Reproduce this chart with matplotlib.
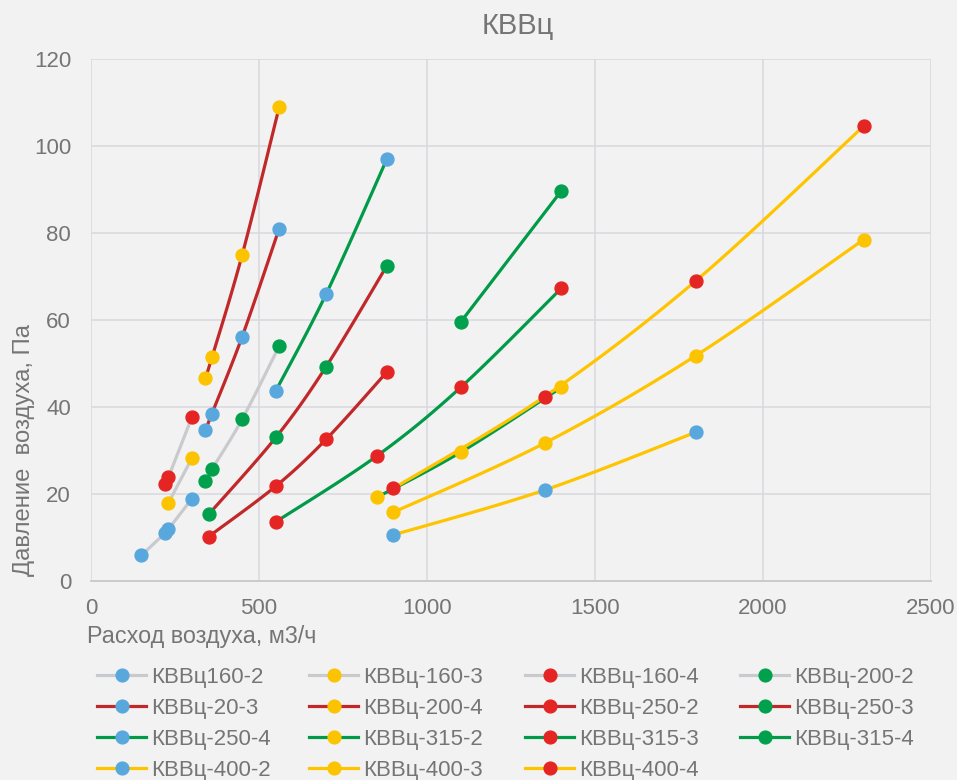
import numpy as np
import matplotlib
matplotlib.use("Agg")
import matplotlib.pyplot as plt
from matplotlib.lines import Line2D

plt.rcParams['font.family'] = ['Liberation Sans', 'DejaVu Sans']

# ---- data ----
names = ["КВВц160-2", "КВВц-160-3", "КВВц-160-4", "КВВц-200-2",
         "КВВц-20-3", "КВВц-200-4", "КВВц-250-2", "КВВц-250-3",
         "КВВц-250-4", "КВВц-315-2", "КВВц-315-3", "КВВц-315-4",
         "КВВц-400-2", "КВВц-400-3", "КВВц-400-4"]

x160_2 = [150, 220, 230, 300];   y160_2 = [5.9, 11.0, 11.9, 18.9]
x160_3 = [230, 300];             y160_3 = [17.9, 28.2]
x160_4 = [220, 230, 300];        y160_4 = [22.2, 23.8, 37.6]
x200_2 = [340, 360, 450, 560];   y200_2 = [23.0, 25.7, 37.2, 54.0]
x200_3 = [340, 360, 450, 560];   y200_3 = [34.6, 38.5, 56.2, 81.0]
x200_4 = [340, 360, 450, 560];   y200_4 = [46.7, 51.4, 75.0, 108.9]
x250_2 = [350, 550, 700, 880];   y250_2 = [10.2, 21.8, 32.6, 48.0]
x250_3 = [350, 550, 700, 880];   y250_3 = [15.3, 33.0, 49.3, 72.4]
x250_4 = [550, 700, 880];        y250_4 = [43.7, 66.0, 96.9]
x315_2 = [850, 1100, 1400];      y315_2 = [19.2, 29.6, 44.5]
x315_3 = [550, 850, 1100, 1400]; y315_3 = [13.6, 28.7, 44.5, 67.3]
x315_4 = [1100, 1400];           y315_4 = [59.5, 89.7]
x400_2 = [900, 1350, 1800];      y400_2 = [10.6, 20.9, 34.2]
x400_3 = [900, 1350, 1800, 2300]; y400_3 = [15.8, 31.7, 51.8, 78.5]
x400_4 = [900, 1350, 1800, 2300]; y400_4 = [21.3, 42.4, 69.0, 104.6]

xs = [x160_2, x160_3, x160_4, x200_2, x200_3, x200_4, x250_2, x250_3,
      x250_4, x315_2, x315_3, x315_4, x400_2, x400_3, x400_4]
ys = [y160_2, y160_3, y160_4, y200_2, y200_3, y200_4, y250_2, y250_3,
      y250_4, y315_2, y315_3, y315_4, y400_2, y400_3, y400_4]

x_ticks = [0, 500, 1000, 1500, 2000, 2500]
y_ticks = [0, 20, 40, 60, 80, 100, 120]

# ---- styles ----
GRAY = "#C9CACE"; DRED = "#C0282A"; GREEN = "#009A48"; YEL = "#FFC400"
M_BLUE = "#58A8DE"; M_YEL = "#FCC400"; M_RED = "#E52524"; M_GREEN = "#00A04C"
line_cols = [GRAY] * 4 + [DRED] * 4 + [GREEN] * 4 + [YEL] * 3
marker_cols = [M_BLUE, M_YEL, M_RED, M_GREEN] * 4
TXT = "#757575"
BG = "#F2F2F2"


def smooth(x, y, n=40):
    p = np.column_stack([x, y]).astype(float)
    if len(p) < 3:
        return p[:, 0], p[:, 1]
    ext = np.vstack([p[0], p, p[-1]])
    out = []
    t = np.linspace(0, 1, n)[:, None]
    for i in range(len(p) - 1):
        p0, p1, p2, p3 = ext[i], ext[i + 1], ext[i + 2], ext[i + 3]
        c1 = p1 + (p2 - p0) / 6.0
        c2 = p2 - (p3 - p1) / 6.0
        seg = ((1 - t) ** 3) * p1 + 3 * ((1 - t) ** 2) * t * c1 + 3 * (1 - t) * t ** 2 * c2 + t ** 3 * p2
        out.append(seg if i == 0 else seg[1:])
    out = np.vstack(out)
    return out[:, 0], out[:, 1]


fig = plt.figure(figsize=(9.57, 7.8), dpi=100, facecolor=BG)
ax = fig.add_axes([91 / 957, 1 - 581 / 780, 840 / 957, 522 / 780])
ax.set_facecolor(BG)

handles = []
for i, (x, y) in enumerate(zip(xs, ys)):
    sx, sy = smooth(x, y)
    ax.plot(sx, sy, color=line_cols[i], lw=2.3, zorder=3 + 2 * i, solid_capstyle='round')
    ax.plot(x, y, ls='none', marker='o', ms=9.3, color=marker_cols[i], mec=marker_cols[i], zorder=4 + 2 * i)
    handles.append(Line2D([0], [0], color=line_cols[i], lw=2.3, marker='o', ms=9.2,
                          mfc=marker_cols[i], mec=marker_cols[i]))

ax.set_xlim(0, 2500)
ax.set_ylim(0, 120)
ax.set_xticks(x_ticks)
ax.set_yticks(y_ticks)
ax.set_xticklabels([str(v) for v in x_ticks])
ax.set_yticklabels([str(v) for v in y_ticks])
ax.grid(True, color="#D9D9DE", lw=1.1, zorder=0)
ax.set_axisbelow(True)
for s in ['top', 'right', 'left']:
    ax.spines[s].set_visible(False)
ax.spines['bottom'].set_color("#C8C8CC")
ax.spines['bottom'].set_linewidth(1.3)
ax.tick_params(length=0, labelsize=16, labelcolor=TXT)
ax.tick_params(axis='y', pad=14.4)
ax.tick_params(axis='x', pad=12.5)

fig.text(518 / 957, 1 - 26 / 780, "КВВц", ha='center', va='center', fontsize=21, color=TXT)
fig.text(87 / 957, 1 - 637 / 780, "Расход воздуха, м3/ч", ha='left', va='center', fontsize=16.8, color=TXT)
fig.text(24 / 957, 1 - 576 / 780, "Давление  воздуха, Па", ha='center', va='bottom', rotation=90,
         fontsize=17.2, color=TXT)

# legend: four columns, row-major order as in the reference
col_x = [97, 309, 525, 740]
for c in range(4):
    idx = list(range(c, len(names), 4))
    leg = fig.legend([handles[k] for k in idx], [names[k] for k in idx], ncol=1,
                     loc='upper left', bbox_to_anchor=(col_x[c] / 957, 1 - 667 / 780),
                     frameon=False, fontsize=16, labelcolor=TXT, handlelength=2.22,
                     handletextpad=0.22, labelspacing=0.45,
                     borderpad=0, borderaxespad=0)

fig.savefig("out.png", dpi=100, facecolor=BG)
